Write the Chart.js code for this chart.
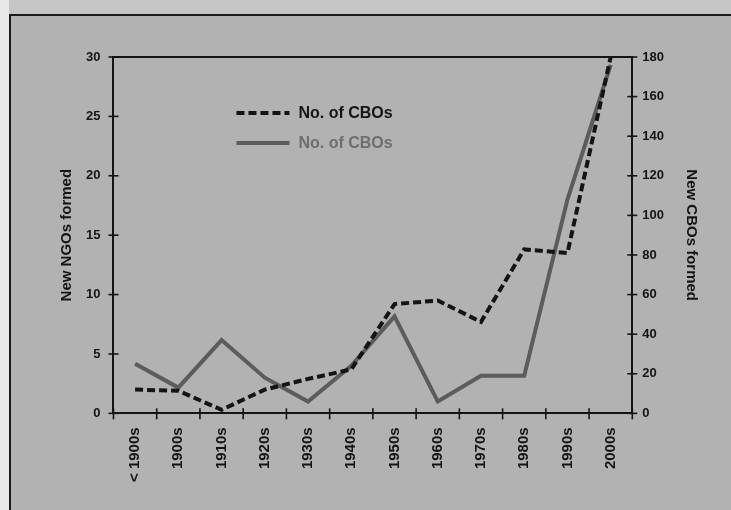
<!DOCTYPE html>
<html>
<head>
<meta charset="utf-8">
<script src="https://cdn.jsdelivr.net/npm/chart.js@4/dist/chart.umd.min.js"></script>
<style>
    html, body { margin: 0; padding: 0; }
    body { width: 731px; height: 510px; background: #c6c6c6; position: relative; overflow: hidden; }
    .strip { position: absolute; left: 0; top: 0; width: 9px; height: 510px; background: #e8e8e8; }
    .frame { position: absolute; left: 9px; top: 14px; width: 740px; height: 520px; border: 2px solid #1a1a1a; background: #b2b2b2; }
    .chart-box { position: absolute; left: 0; top: 0; width: 731px; height: 510px; }
</style>
</head>
<body>
<div class="strip"></div>
<div class="frame"></div>
<div class="chart-box"><canvas id="c"></canvas></div>
<script>
// Decades on the x axis
const decades = ['< 1900s', '1900s', '1910s', '1920s', '1930s', '1940s', '1950s', '1960s', '1970s', '1980s', '1990s', '2000s'];
// dashed series, left axis (0-30)
const ngoCounts = [2, 1.9, 0.3, 2.0, 2.9, 3.7, 9.2, 9.5, 7.7, 13.8, 13.5, 30];
// solid series, right axis (0-180)
const cboCounts = [25, 13, 37, 18, 6, 24, 49, 6, 19, 19, 108, 176];
const legendLabels = ['No. of CBOs', 'No. of CBOs'];

const INK = '#141414';
const GREY_LINE = '#5c5c5c';
const FONT = "'Liberation Sans', Arial, sans-serif";

// box round the plot, ticks crossing the axes, and the legend
const framePlugin = {
    id: 'frame',
    afterDraw(chart) {
        const { ctx, chartArea: a, scales } = chart;
        ctx.save();
        ctx.strokeStyle = INK;
        ctx.lineWidth = 2;
        ctx.beginPath();
        ctx.moveTo(a.left, a.top);
        ctx.lineTo(a.right, a.top);
        ctx.stroke();

        ctx.lineWidth = 1.6;
        scales.y.ticks.forEach(t => {
            const py = scales.y.getPixelForValue(t.value);
            ctx.beginPath(); ctx.moveTo(a.left - 5, py); ctx.lineTo(a.left + 5, py); ctx.stroke();
        });
        scales.y1.ticks.forEach(t => {
            const py = scales.y1.getPixelForValue(t.value);
            ctx.beginPath(); ctx.moveTo(a.right - 5, py); ctx.lineTo(a.right + 5, py); ctx.stroke();
        });
        const step = scales.x.getPixelForValue(1) - scales.x.getPixelForValue(0);
        for (let i = 0; i <= decades.length; i++) {
            const px = scales.x.getPixelForValue(0) - step / 2 + i * step;
            ctx.beginPath(); ctx.moveTo(px, a.bottom - 5); ctx.lineTo(px, a.bottom + 6); ctx.stroke();
        }

        // legend
        chart.data.datasets.forEach((ds, i) => {
            const lx = a.left + 123, ly = a.top + 56 + i * 30;
            ctx.strokeStyle = ds.borderColor;
            ctx.lineWidth = ds.borderWidth;
            ctx.setLineDash(ds.borderDash || []);
            ctx.beginPath(); ctx.moveTo(lx, ly); ctx.lineTo(lx + 53, ly); ctx.stroke();
            ctx.setLineDash([]);
            ctx.fillStyle = i === 0 ? INK : '#6e6e6e';
            ctx.font = 'bold 16px ' + FONT;
            ctx.textBaseline = 'middle';
            ctx.fillText(ds.label, lx + 62, ly + 1);
        });
        ctx.restore();
    }
};

new Chart(document.getElementById('c'), {
    type: 'line',
    data: {
        labels: decades,
        datasets: [{
            label: legendLabels[0],
            data: ngoCounts,
            yAxisID: 'y',
            borderColor: INK,
            borderWidth: 4,
            borderDash: [8, 4],
            pointRadius: 0,
            tension: 0,
        }, {
            label: legendLabels[1],
            data: cboCounts,
            yAxisID: 'y1',
            borderColor: GREY_LINE,
            borderWidth: 4,
            pointRadius: 0,
            tension: 0,
        }],
    },
    options: {
        responsive: true,
        maintainAspectRatio: false,
        animation: false,
        layout: { padding: { left: 58, right: 31, top: 57, bottom: 14 } },
        plugins: { legend: { display: false }, tooltip: { enabled: false } },
        scales: {
            x: {
                offset: true,
                grid: { display: false, drawTicks: false },
                border: { display: true, color: INK, width: 2 },
                ticks: {
                    color: INK, padding: 14, maxRotation: 90, minRotation: 90,
                    font: { family: FONT, size: 15, weight: 'bold' },
                },
            },
            y: {
                position: 'left',
                min: 0, max: 30,
                grid: { display: false, drawTicks: false },
                border: { display: true, color: INK, width: 2 },
                ticks: {
                    stepSize: 5, color: INK, padding: 13,
                    font: { family: FONT, size: 13, weight: 'bold' },
                },
                title: {
                    display: true, text: 'New NGOs formed', color: INK,
                    padding: { top: 0, bottom: -3 },
                    font: { family: FONT, size: 15, weight: 'bold' },
                },
            },
            y1: {
                position: 'right',
                min: 0, max: 180,
                grid: { display: false, drawTicks: false },
                border: { display: true, color: INK, width: 2 },
                ticks: {
                    stepSize: 20, color: INK, padding: 10,
                    font: { family: FONT, size: 13, weight: 'bold' },
                },
                title: {
                    display: true, text: 'New CBOs formed', color: INK,
                    padding: { top: 0, bottom: 8 },
                    font: { family: FONT, size: 15, weight: 'bold' },
                },
            },
        },
    },
    plugins: [framePlugin],
});
</script>
</body>
</html>
